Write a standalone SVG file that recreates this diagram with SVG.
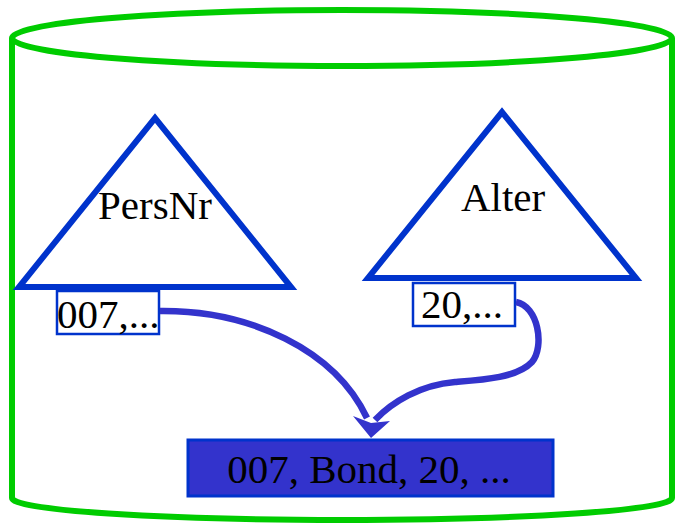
<svg xmlns="http://www.w3.org/2000/svg" width="675" height="527" viewBox="0 0 675 527">
<style>
.cyl{fill:none;stroke:#00cc00;stroke-width:6}
.tri{fill:#ffffff;stroke:#0033cc;stroke-width:6;stroke-linejoin:miter}
.box{fill:#ffffff;stroke:#0033cc;stroke-width:2.5}
.rec{fill:#3333cc;stroke:#0033cc;stroke-width:3}
.lbl{font-family:"Liberation Serif","Times New Roman",serif;font-size:41px;fill:#000000}
.con{fill:none;stroke:#3333cc;stroke-width:6.5}
.head{fill:#3333cc}
</style>
<rect width="675" height="527" fill="#ffffff"/>
<g id="cylinder">
<path class="cyl" d="M12,38 L12,498 A330,22 0 0 0 672,498 L672,38"/>
<ellipse class="cyl" cx="342" cy="38" rx="330" ry="28"/>
</g>
<g id="node-persnr">
<polygon class="tri" points="19,287 291,287 155,118"/>
<text class="lbl" x="155" y="219" text-anchor="middle">PersNr</text>
</g>
<g id="node-alter">
<polygon class="tri" points="368,278 636,278 502,112"/>
<text class="lbl" x="503" y="211" text-anchor="middle">Alter</text>
</g>
<g id="node-key007">
<rect class="box" x="57" y="291" width="102" height="43"/>
<text class="lbl" x="57" y="328">007,...</text>
</g>
<g id="node-key20">
<rect class="box" x="413" y="283" width="102" height="43"/>
<text class="lbl" x="421" y="318">20,...</text>
</g>
<g id="node-record">
<rect class="rec" x="188" y="440" width="365" height="56"/>
<text class="lbl" x="369" y="483" text-anchor="middle">007, Bond, 20, ...</text>
</g>
<g id="connectors">
<path class="con" d="M160,311 C250,310 335,350 367,418"/>
<path class="con" d="M516,302 C538,306 545,346 532,362 C517,378 482,380 455,382 C420,385 392,402 375,420"/>
<polygon class="head" points="371,438 353,416 371,423 390,421"/>
</g>
</svg>
